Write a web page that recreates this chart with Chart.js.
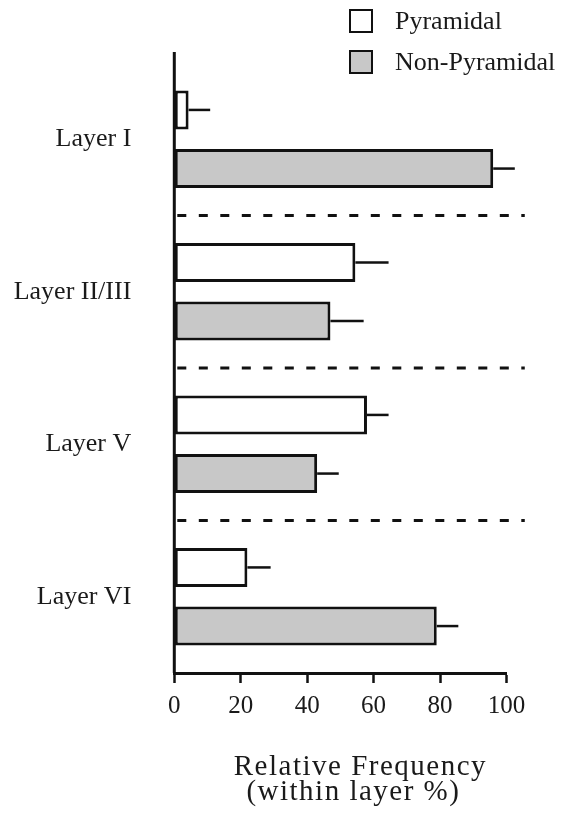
<!DOCTYPE html>
<html>
<head>
<meta charset="utf-8">
<script src="https://cdn.jsdelivr.net/npm/chart.js@4.4.1/dist/chart.umd.min.js"></script>
<style>
  html, body { margin: 0; padding: 0; background: #ffffff; }
  #wrap { position: relative; width: 568px; height: 818px; }
  #c { position: absolute; left: 0; top: 0; }
  .lg { position: absolute; left: 349px; display: flex; align-items: center; font-family: 'Liberation Serif', 'DejaVu Serif', serif; font-size: 26px; color: #1a1a1a; }
  .lg .box { width: 20px; height: 20px; border: 2.5px solid #111; margin-right: 22px; }
</style>
</head>
<body>
<div id="wrap">
  <canvas id="c" width="568" height="818"></canvas>
  <div class="lg" style="top:6px;"><div class="box" style="background:#ffffff"></div><span>Pyramidal</span></div>
  <div class="lg" style="top:47px;"><div class="box" style="background:#c8c8c8"></div><span>Non-Pyramidal</span></div>
</div>
<script>
const categories = ['Layer I', 'Layer II/III', 'Layer V', 'Layer VI'];
const seriesNames = ['Pyramidal', 'Non-Pyramidal'];
const pyramidal = [4.3, 54.5, 58, 22];
const pyramidalErr = [6.5, 10, 6.5, 7];
const nonPyramidal = [96, 47, 43, 79];
const nonPyramidalErr = [6.5, 10, 6.5, 6.5];
const xTicks = [0, 20, 40, 60, 80, 100];
const xTitle = ['Relative Frequency', '(within layer %)'];

const FONT = "'Liberation Serif', 'DejaVu Serif', serif";

const errorBars = {
  id: 'errorBars',
  afterDatasetsDraw(chart) {
    const ctx = chart.ctx;
    const xs = chart.scales.x;
    ctx.save();
    ctx.strokeStyle = '#111';
    ctx.lineWidth = 2.5;
    chart.data.datasets.forEach((ds, di) => {
      const meta = chart.getDatasetMeta(di);
      meta.data.forEach((bar, i) => {
        const v = ds.data[i];
        const e = ds.errors[i];
        const x0 = bar.x;
        const x1 = xs.getPixelForValue(v + e);
        ctx.beginPath();
        ctx.moveTo(x0, bar.y);
        ctx.lineTo(x1, bar.y);
        ctx.stroke();
      });
    });
    ctx.restore();
  }
};

const decorations = {
  id: 'decorations',
  afterDraw(chart) {
    const ctx = chart.ctx;
    const ys = chart.scales.y;
    const xs = chart.scales.x;
    const area = chart.chartArea;
    ctx.save();
    // y axis line (extends a little above the plot area)
    ctx.strokeStyle = '#111';
    ctx.lineWidth = 3;
    ctx.beginPath();
    ctx.moveTo(area.left, area.top - 11);
    ctx.lineTo(area.left, area.bottom);
    ctx.stroke();
    // dashed separators between layers
    ctx.setLineDash([9, 12.5]);
    ctx.lineWidth = 3;
    for (let i = 0; i < categories.length - 1; i++) {
      const y = (ys.getPixelForValue(i) + ys.getPixelForValue(i + 1)) / 2;
      ctx.beginPath();
      ctx.moveTo(area.left + 3, y);
      ctx.lineTo(xs.getPixelForValue(105.5), y);
      ctx.stroke();
    }
    ctx.setLineDash([]);
    // axis title (letter-spaced, two lines)
    ctx.fillStyle = '#1a1a1a';
    ctx.font = "29px " + FONT;
    ctx.textAlign = 'center';
    ctx.textBaseline = 'alphabetic';
    try { ctx.letterSpacing = '1.5px'; } catch (e) {}
    const cx = (xs.left + xs.right) / 2;
    ctx.fillText(xTitle[0], cx + 20, 775);
    ctx.fillText(xTitle[1], cx + 13, 800);
    ctx.restore();
  }
};

new Chart(document.getElementById('c'), {
  type: 'bar',
  data: {
    labels: categories,
    datasets: [
      {
        label: seriesNames[0],
        data: pyramidal,
        errors: pyramidalErr,
        backgroundColor: '#ffffff',
        borderColor: '#111',
        borderWidth: 3,
        borderSkipped: false,
        categoryPercentage: 0.769,
        barPercentage: 0.665
      },
      {
        label: seriesNames[1],
        data: nonPyramidal,
        errors: nonPyramidalErr,
        backgroundColor: '#c8c8c8',
        borderColor: '#111',
        borderWidth: 3,
        borderSkipped: false,
        categoryPercentage: 0.769,
        barPercentage: 0.665
      }
    ]
  },
  options: {
    indexAxis: 'y',
    responsive: false,
    animation: false,
    devicePixelRatio: 1,
    layout: { padding: { top: 63, right: 61.5, bottom: 0, left: 0 } },
    plugins: {
      legend: { display: false },
      tooltip: { enabled: false }
    },
    scales: {
      x: {
        type: 'linear',
        min: 0,
        max: 100,
        afterFit(scale) { scale.height = 145; },
        afterBuildTicks(scale) { scale.ticks = xTicks.map(v => ({ value: v })); },
        ticks: {
          color: '#1a1a1a',
          font: { family: FONT, size: 25 },
          padding: 8,
          maxRotation: 0
        },
        grid: {
          display: true,
          drawOnChartArea: false,
          drawTicks: true,
          tickLength: 10,
          tickColor: '#111',
          tickWidth: 2.5
        },
        border: { display: true, color: '#111', width: 3 },
        title: { display: false }
      },
      y: {
        type: 'category',
        afterFit(scale) { scale.width = 174.3; },
        ticks: {
          color: '#1a1a1a',
          font: { family: FONT, size: 26 },
          padding: 43
        },
        grid: { display: false, drawTicks: false },
        border: { display: false }
      }
    }
  },
  plugins: [errorBars, decorations]
});
</script>
</body>
</html>
